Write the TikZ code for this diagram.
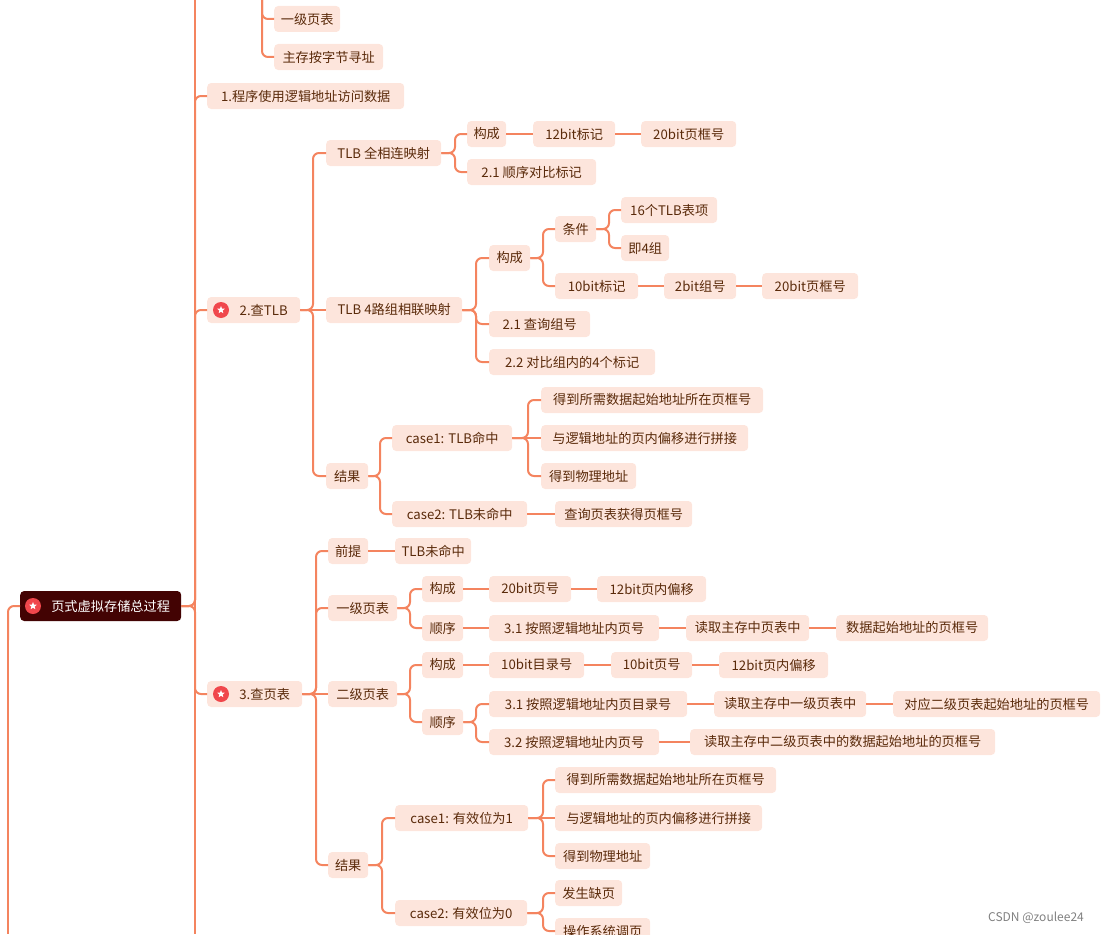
\documentclass[tikz,border=0pt]{standalone}
\usepackage{fontspec}
\setmainfont{Noto Sans CJK SC}
\usetikzlibrary{shapes.geometric}
\definecolor{bx}{HTML}{FDE5DC}
\definecolor{tx}{HTML}{5A2A0A}
\definecolor{ln}{HTML}{F4845F}
\definecolor{rt}{HTML}{430303}
\definecolor{st}{HTML}{F0474C}
\tikzset{
 box/.style={rounded corners=4pt,fill=bx,text=tx,inner sep=0pt,minimum height=26pt,anchor=west,font=\fontsize{13.2}{15}\selectfont},
 ed/.style={draw=ln,line width=2pt,rounded corners=6pt},
 sd/.style={draw=ln,line width=2pt},
}
\newcommand\nd[5]{\node[box,minimum width=#3-#2] (#1) at (#2,#4) {#5};}
\newcommand\cn[3]{\draw[ed] (#1.east) -- (#3,0 |- #1.east) |- (#2.west);}
\newcommand\cs[2]{\draw[sd] (#1.east) -- (#2.west);}
\newcommand\staricon[2]{\fill[st] (#1,#2) circle (8pt);
 \node[star,star points=5,star point ratio=2.3,fill=white,inner sep=0pt,minimum size=8pt] at (#1,#2) {};}
\begin{document}
\begin{tikzpicture}[x=1pt,y=-1pt]
\useasboundingbox (0,0) rectangle (1105,934);
% spines
\draw[sd] (195,0) -- (195,934);
\draw[sd] (262,0) -- (262,40);
\draw[sd] (8,620) -- (8,934);
% top partial
\nd{a1}{274}{340}{19}{一级页表}
\nd{a2}{274}{383}{57}{主存按字节寻址}
\draw[ed] (262,0) |- (a1.west);
\draw[ed] (262,0) |- (a2.west);
% root
\node[box,fill=rt,text=white,minimum width=161pt,minimum height=30pt] (root) at (20,606) {\hspace{20pt}页式虚拟存储总过程};
\draw[ed] (root.west) -- (8,606) -- (8,640);
% level 1
\nd{l1}{207}{404}{96}{1.程序使用逻辑地址访问数据}
\nd{l2}{207}{300}{310}{\hspace{20pt}2.查TLB}
\nd{l3}{207}{302}{694}{\hspace{20pt}3.查页表}
\cn{root}{l1}{195}\cn{root}{l2}{195}\cn{root}{l3}{195}
% TLB
\nd{t1}{326}{441}{153}{TLB 全相连映射}
\nd{t2}{326}{462}{310}{TLB 4路组相联映射}
\nd{t3}{326}{368}{476}{结果}
\cn{l2}{t1}{313}\cs{l2}{t2}\cn{l2}{t3}{313}
\nd{f1}{467}{506}{134}{构成}
\nd{f2}{467}{596}{172}{2.1 顺序对比标记}
\cn{t1}{f1}{455}\cn{t1}{f2}{455}
\nd{f3}{533}{615}{134}{12bit标记}
\nd{f4}{641}{736}{134}{20bit页框号}
\cs{f1}{f3}\cs{f3}{f4}
\nd{g1}{489}{530}{258}{构成}
\nd{g2}{489}{590}{324}{2.1 查询组号}
\nd{g3}{489}{655}{362}{2.2 对比组内的4个标记}
\cn{t2}{g1}{476}\cn{t2}{g2}{476}\cn{t2}{g3}{476}
\nd{g4}{555}{596}{229}{条件}
\nd{g5}{555}{638}{286}{10bit标记}
\cn{g1}{g4}{543}\cn{g1}{g5}{543}
\nd{g6}{621}{717}{210}{16个TLB表项}
\nd{g7}{621}{669}{248}{即4组}
\cn{g4}{g6}{609}\cn{g4}{g7}{609}
\nd{g8}{664}{736}{286}{2bit组号}
\nd{g9}{762}{858}{286}{20bit页框号}
\cs{g5}{g8}\cs{g8}{g9}
\nd{r1}{392}{512}{438}{case1: TLB命中}
\nd{r2}{392}{527}{514}{case2: TLB未命中}
\cn{t3}{r1}{380}\cn{t3}{r2}{380}
\nd{r3}{541}{763}{400}{得到所需数据起始地址所在页框号}
\nd{r4}{541}{748}{438}{与逻辑地址的页内偏移进行拼接}
\nd{r5}{541}{636}{476}{得到物理地址}
\cn{r1}{r3}{528}\cs{r1}{r4}\cn{r1}{r5}{528}
\nd{r6}{555}{692}{514}{查询页表获得页框号}
\cs{r2}{r6}
% page table
\nd{p1}{328}{368}{551}{前提}
\nd{p2}{328}{397}{608}{一级页表}
\nd{p3}{328}{397}{694}{二级页表}
\nd{p4}{328}{368}{865}{结果}
\cn{l3}{p1}{316}\cn{l3}{p2}{316}\cs{l3}{p3}\cn{l3}{p4}{316}
\nd{q0}{395}{471}{551}{TLB未命中}
\cs{p1}{q0}
\nd{q1}{422}{463}{589}{构成}
\nd{q2}{422}{463}{628}{顺序}
\cn{p2}{q1}{410}\cn{p2}{q2}{410}
\nd{q3}{489}{571}{589}{20bit页号}
\nd{q4}{597}{706}{589}{12bit页内偏移}
\cs{q1}{q3}\cs{q3}{q4}
\nd{q5}{489}{659}{628}{3.1 按照逻辑地址内页号}
\nd{q6}{686}{809}{628}{读取主存中页表中}
\nd{q7}{836}{988}{628}{数据起始地址的页框号}
\cs{q2}{q5}\cs{q5}{q6}\cs{q6}{q7}
\nd{s1}{422}{463}{665}{构成}
\nd{s2}{422}{463}{722}{顺序}
\cn{p3}{s1}{410}\cn{p3}{s2}{410}
\nd{s3}{489}{584}{665}{10bit目录号}
\nd{s4}{611}{692}{665}{10bit页号}
\nd{s5}{719}{828}{665}{12bit页内偏移}
\cs{s1}{s3}\cs{s3}{s4}\cs{s4}{s5}
\nd{s6}{489}{687}{704}{3.1 按照逻辑地址内页目录号}
\nd{s7}{714}{866}{704}{读取主存中一级页表中}
\nd{s8}{893}{1100}{704}{对应二级页表起始地址的页框号}
\cn{s2}{s6}{476}\cs{s6}{s7}\cs{s7}{s8}
\nd{s9}{489}{659}{742}{3.2 按照逻辑地址内页号}
\nd{s10}{690}{995}{742}{读取主存中二级页表中的数据起始地址的页框号}
\cn{s2}{s9}{476}\cs{s9}{s10}
\nd{u1}{395}{528}{818}{case1: 有效位为1}
\nd{u2}{395}{527}{913}{case2: 有效位为0}
\cn{p4}{u1}{382}\cn{p4}{u2}{382}
\nd{u3}{555}{776}{780}{得到所需数据起始地址所在页框号}
\nd{u4}{555}{762}{818}{与逻辑地址的页内偏移进行拼接}
\nd{u5}{555}{650}{856}{得到物理地址}
\cn{u1}{u3}{543}\cs{u1}{u4}\cn{u1}{u5}{543}
\nd{u6}{555}{622}{893}{发生缺页}
\nd{u7}{555}{650}{931}{操作系统调页}
\cn{u2}{u6}{543}\cn{u2}{u7}{543}
% icons
\staricon{33}{606}\staricon{221}{310}\staricon{221}{694}
\node[text=gray,font=\fontsize{12}{14}\selectfont] (wm) at (1036,918) {CSDN @zoulee24};
\end{tikzpicture}
\end{document}
